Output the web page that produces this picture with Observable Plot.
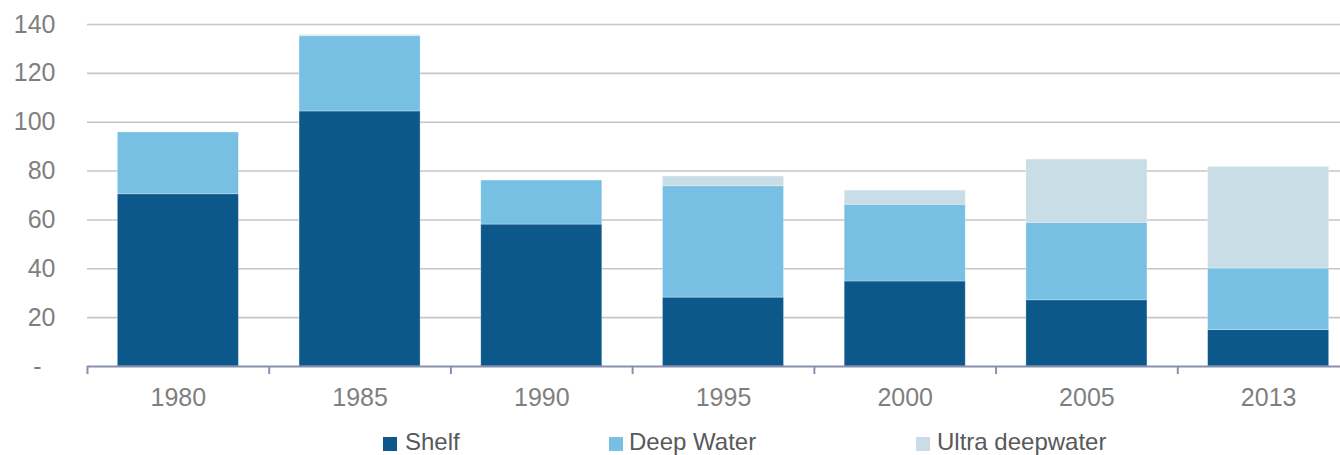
<!DOCTYPE html>
<html>
<head>
<meta charset="utf-8">
<script src="https://cdn.jsdelivr.net/npm/d3@7"></script>
<script src="https://cdn.jsdelivr.net/npm/@observablehq/plot@0.6"></script>
<style>
  html, body { margin: 0; padding: 0; background: #fff; }
  #wrap { position: relative; width: 1340px; height: 455px; overflow: hidden; font-family: "Liberation Sans", Arial, sans-serif; }
  #chart svg { display: block; }
  .key { position: absolute; top: 428px; display: flex; align-items: center; font-size: 24px; color: #595959; white-space: nowrap; }
  .key i { display: inline-block; width: 14px; height: 14px; margin-top: 3px; }
</style>
</head>
<body>
<div id="wrap">
  <div id="chart"></div>
  <div id="legend"></div>
</div>
<script>
// Years shown on the category axis
const years = ["1980", "1985", "1990", "1995", "2000", "2005", "2013"];

// Series, bottom to top of each stack
const seriesNames = ["Shelf", "Deep Water", "Ultra deepwater"];
const shelf      = [70.5, 104.4, 58.1, 28.2, 34.8, 27.1, 14.9];
const deepWater  = [25.3,  30.8, 18.0, 45.6, 31.4, 31.7, 25.2];
const ultraDeep  = [ 0.0,   0.5,  0.0,  4.0,  5.8, 25.9, 41.6];
const seriesColors = ["#0c588a", "#77c0e3", "#c9dde6"];

// Value axis ticks
const yTicks = [0, 20, 40, 60, 80, 100, 120, 140];

const seriesValues = [shelf, deepWater, ultraDeep];
const rows = seriesNames.flatMap((name, s) =>
  years.map((year, i) => ({year, series: name, value: seriesValues[s][i]}))
);

const width = 1340;
const height = 415;
const x0 = 87, x1 = 1359;             // band range; the last band runs past the right edge
const step = (x1 - x0) / years.length;

const chart = Plot.plot({
  width,
  height,
  marginLeft: 87,
  marginRight: 0,
  marginTop: 24,
  marginBottom: 49,
  style: {fontFamily: "'Liberation Sans', Arial, sans-serif", fontSize: "25px", color: "#7f7f7f", background: "#fff"},
  x: {domain: years, range: [x0, x1], round: false, paddingInner: 0.334, paddingOuter: 0.167, label: null},
  y: {domain: [0, 140], label: null},
  color: {domain: seriesNames, range: seriesColors},
  marks: [
    Plot.ruleY(yTicks.filter(d => d > 0), {stroke: "#c6c6c6", strokeWidth: 1.6}),
    Plot.barY(rows, Plot.stackY({order: seriesNames}, {
      x: "year", y: "value", fill: "series",
      stroke: "#ffffff", strokeOpacity: 0.35, strokeWidth: 0.8
    })),
    Plot.ruleY([0], {stroke: "#8790ae", strokeWidth: 2}),
    // small ticks at the band boundaries below the baseline
    Plot.ruleX(years, {x: d => d, dx: -step / 2, y1: 0, y2: -3.3, stroke: "#8790ae", strokeWidth: 2}),
    Plot.axisY(yTicks, {
      tickSize: 0, tickPadding: 32, fill: "#7f7f7f",
      tickFormat: d => d === 0 ? "-\u2007" : String(d)
    }),
    Plot.axisX({tickSize: 0, tickPadding: 22, fill: "#7f7f7f"})
  ]
});
document.getElementById("chart").appendChild(chart);

// Legend row below the plot
const legendLeft = [383, 609, 916];
const legendGap = [8, 6, 7];
const legend = document.getElementById("legend");
seriesNames.forEach((name, i) => {
  const item = document.createElement("div");
  item.className = "key";
  item.style.left = legendLeft[i] + "px";
  const sw = document.createElement("i");
  sw.style.background = seriesColors[i];
  sw.style.marginRight = legendGap[i] + "px";
  const label = document.createElement("span");
  label.textContent = name;
  item.appendChild(sw);
  item.appendChild(label);
  legend.appendChild(item);
});
</script>
</body>
</html>
